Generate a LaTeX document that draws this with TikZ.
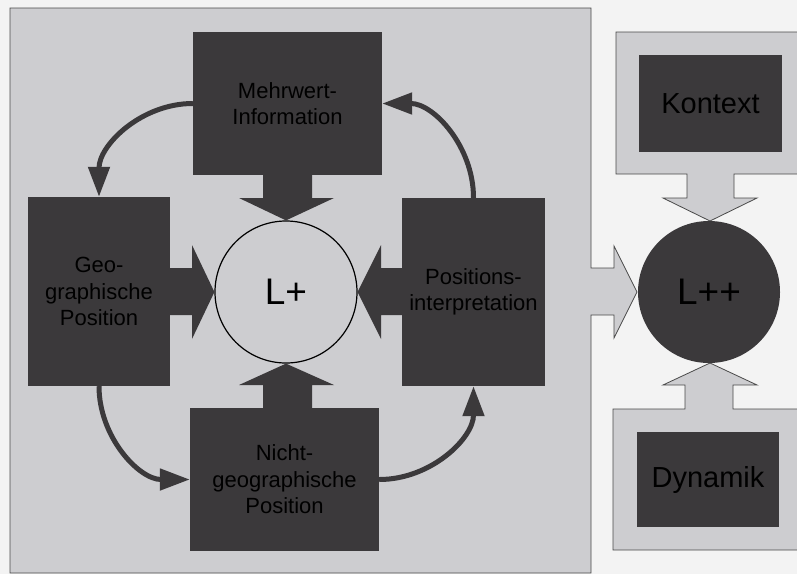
\documentclass[tikz,border=0pt]{standalone}
\usepackage{fontspec}
\setmainfont{Liberation Sans}
\usetikzlibrary{arrows.meta}
\definecolor{bgout}{HTML}{F3F3F3}
\definecolor{panel}{HTML}{CDCDD0}
\definecolor{darkbox}{HTML}{3B393B}
\definecolor{edge}{HTML}{4A4A4A}
\begin{document}
\begin{tikzpicture}[x=1pt,y=1pt,
  darkrect/.style={rectangle,fill=darkbox,inner sep=0pt,text=black,align=center,
    font=\fontsize{22}{26.5}\selectfont},
  bigbox/.style={darkrect,font=\fontsize{29}{32}\selectfont},
  lightshape/.style={fill=panel,draw=edge,line width=0.8pt},
  blockarrow/.style={fill=darkbox},
  curvearrow/.style={draw=darkbox,line width=5pt,-{Triangle[length=30pt,width=21pt]}}
]
\clip (0,0) rectangle (797,-574);
\fill[bgout] (0,0) rectangle (797,-574);

% left panel with outgoing arrow to L++
\draw[lightshape] (10,-8) -- (591,-8) -- (591,-268) -- (614,-268) -- (614,-246) -- (637,-292)
  -- (614,-338) -- (614,-315) -- (591,-315) -- (591,-573) -- (10,-573) -- cycle;
% Kontext frame with arrow down
\draw[lightshape] (616,-32) -- (805,-32) -- (805,-174) -- (734,-174) -- (734,-198) -- (757,-198)
  -- (710,-221) -- (663,-198) -- (687,-198) -- (687,-174) -- (616,-174) -- cycle;
% Dynamik frame with arrow up
\draw[lightshape] (613,-550) -- (613,-409) -- (685,-409) -- (685,-385) -- (663,-385) -- (710,-363)
  -- (757,-385) -- (733,-385) -- (733,-409) -- (805,-409) -- (805,-550) -- cycle;

% boxes
\node[darkrect,minimum width=189pt,minimum height=143pt] (mehr) at (287.5,-103.5) {Mehrwert-\\Information};
\node[darkrect,minimum width=142pt,minimum height=189pt] (geo) at (99,-291.5) {Geo-\\graphische\\Position};
\node[darkrect,minimum width=143pt,minimum height=188pt] (pos) at (473.5,-292) {Positions-\\interpretation};
\node[darkrect,minimum width=189pt,minimum height=143pt] (nicht) at (284.5,-479.5) {Nicht-\\geographische\\Position};
\node[circle,minimum size=142pt,inner sep=0pt,fill=panel,draw=black,line width=1.2pt,
  text=black,font=\fontsize{37}{40}\selectfont] (lp) at (286,-292) {L+};

\node[bigbox,minimum width=143pt,minimum height=97pt] (kon) at (710.5,-103.5) {Kontext};
\node[bigbox,minimum width=142pt,minimum height=95pt] (dyn) at (708,-479.5) {Dynamik};
\node[circle,minimum size=142pt,inner sep=0pt,fill=darkbox,text=black,
  font=\fontsize{37}{40}\selectfont] (lpp) at (709,-292) {L++};

% block arrows into L+
\fill[blockarrow] (263,-175) -- (263,-198) -- (239,-198) -- (lp.north) -- (334,-198) -- (312,-198) -- (312,-175) -- cycle;
\fill[blockarrow] (263,-408) -- (263,-385) -- (239,-385) -- (lp.south) -- (334,-385) -- (312,-385) -- (312,-408) -- cycle;
\fill[blockarrow] (170,-268) -- (192,-268) -- (192,-245) -- (lp.west) -- (192,-339) -- (192,-315) -- (170,-315) -- cycle;
\fill[blockarrow] (402,-268) -- (381,-268) -- (381,-245) -- (lp.east) -- (381,-339) -- (381,-315) -- (402,-315) -- cycle;

% curved arrows
\draw[curvearrow] (mehr.west) to[out=180,in=90] (geo.north);
\draw[curvearrow] (geo.south) to[out=270,in=180] (nicht.west);
\draw[curvearrow] (nicht.east) to[out=0,in=270] (pos.south);
\draw[curvearrow] (pos.north) to[out=90,in=0] (mehr.east);
\end{tikzpicture}
\end{document}
